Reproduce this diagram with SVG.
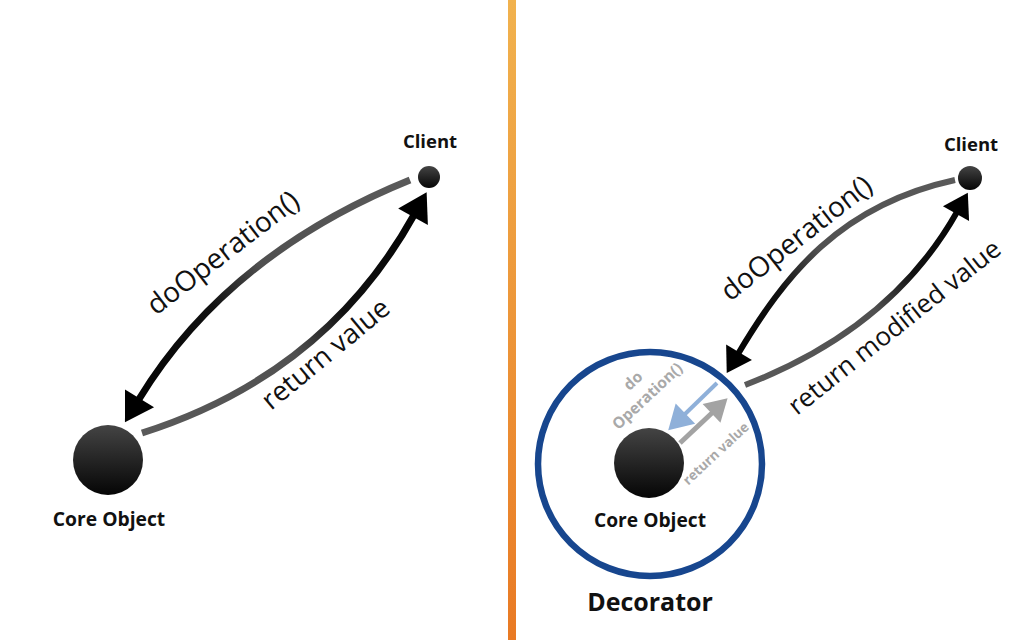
<svg xmlns="http://www.w3.org/2000/svg" width="1024" height="640" viewBox="0 0 1024 640">
  <style>
    .node-label { font-family: "Open Sans", "Liberation Sans", sans-serif; font-weight: 700; fill: #111; text-anchor: middle; }
    .edge-label { font-family: "Open Sans", "Liberation Sans", sans-serif; font-weight: 400; fill: #111; }
    .inner-label { font-family: "Open Sans", "Liberation Sans", sans-serif; font-weight: 700; fill: #a9a9a9; text-anchor: middle; }
    .arc { fill: none; stroke-linecap: butt; }
    .ball { fill: url(#ballGrad); }
  </style>
  <defs>
    <linearGradient id="divider" x1="0" y1="0" x2="0" y2="1">
      <stop offset="0" stop-color="#f1b24e"/>
      <stop offset="1" stop-color="#e97a24"/>
    </linearGradient>
    <linearGradient id="ballGrad" x1="0" y1="0" x2="0" y2="1">
      <stop offset="0" stop-color="#444"/>
      <stop offset="1" stop-color="#050505"/>
    </linearGradient>
    <linearGradient id="gL1" gradientUnits="userSpaceOnUse" x1="410" y1="180" x2="125" y2="422">
      <stop offset="0" stop-color="#5a5a5a"/>
      <stop offset="0.45" stop-color="#505050"/>
      <stop offset="0.62" stop-color="#111"/>
      <stop offset="1" stop-color="#000"/>
    </linearGradient>
    <linearGradient id="gL2" gradientUnits="userSpaceOnUse" x1="142" y1="433" x2="427" y2="192">
      <stop offset="0" stop-color="#5a5a5a"/>
      <stop offset="0.45" stop-color="#505050"/>
      <stop offset="0.62" stop-color="#111"/>
      <stop offset="1" stop-color="#000"/>
    </linearGradient>
    <linearGradient id="gR1" gradientUnits="userSpaceOnUse" x1="955" y1="180" x2="727" y2="373">
      <stop offset="0" stop-color="#5a5a5a"/>
      <stop offset="0.5" stop-color="#505050"/>
      <stop offset="0.68" stop-color="#111"/>
      <stop offset="1" stop-color="#000"/>
    </linearGradient>
    <linearGradient id="gR2" gradientUnits="userSpaceOnUse" x1="745" y1="385" x2="968" y2="193">
      <stop offset="0" stop-color="#5a5a5a"/>
      <stop offset="0.5" stop-color="#505050"/>
      <stop offset="0.68" stop-color="#111"/>
      <stop offset="1" stop-color="#000"/>
    </linearGradient>
    <marker id="ahL" markerUnits="userSpaceOnUse" orient="auto" overflow="visible" markerWidth="1" markerHeight="1" refX="0" refY="0">
      <path d="M-2,-17 L26,0 L-2,17 z" fill="#000"/>
    </marker>
    <marker id="ahR" markerUnits="userSpaceOnUse" orient="auto" overflow="visible" markerWidth="1" markerHeight="1" refX="0" refY="0">
      <path d="M-2,-15 L22,0 L-2,15 z" fill="#000"/>
    </marker>
    <marker id="ahBlue" markerUnits="userSpaceOnUse" orient="auto" overflow="visible" markerWidth="1" markerHeight="1" refX="0" refY="0">
      <path d="M-2,-14 L22,0 L-2,14 z" fill="#8fb0d9"/>
    </marker>
    <marker id="ahGray" markerUnits="userSpaceOnUse" orient="auto" overflow="visible" markerWidth="1" markerHeight="1" refX="0" refY="0">
      <path d="M-2,-13 L20,0 L-2,13 z" fill="#a3a3a3"/>
    </marker>
  </defs>

  <rect x="0" y="0" width="1024" height="640" fill="#ffffff"/>
  <rect id="divider-line" x="508" y="0" width="8" height="640" fill="url(#divider)"/>

  <g id="connectors">
    <path class="arc" d="M410,180 Q227.5,254 138.5,400" stroke="url(#gL1)" stroke-width="7" marker-end="url(#ahL)"/>
    <path class="arc" d="M142,433 Q325,375 414,215" stroke="url(#gL2)" stroke-width="7" marker-end="url(#ahL)"/>
    <path class="arc" d="M955,180 C840,205 785,275 738,354" stroke="url(#gR1)" stroke-width="6" marker-end="url(#ahR)"/>
    <path class="arc" d="M745,385 Q891,329 957,212" stroke="url(#gR2)" stroke-width="6" marker-end="url(#ahR)"/>
    <line x1="717" y1="383" x2="684" y2="415" stroke="#8fb0d9" stroke-width="4" marker-end="url(#ahBlue)"/>
    <line x1="680" y1="443" x2="713" y2="412" stroke="#a3a3a3" stroke-width="5" marker-end="url(#ahGray)"/>
  </g>

  <g id="edge-labels">
    <text class="edge-label" font-size="28" transform="translate(156,316) rotate(-37.5)">doOperation()</text>
    <text class="edge-label" font-size="27.5" transform="translate(271,411) rotate(-39.5)">return value</text>
    <text class="edge-label" font-size="28" transform="translate(730,302) rotate(-38)">doOperation()</text>
    <text class="edge-label" font-size="26" transform="translate(797,416) rotate(-38.5)">return modified value</text>
    <g transform="translate(651,400) rotate(-43)">
      <text class="inner-label" font-size="15.5" x="0" y="-21">do</text>
      <text class="inner-label" font-size="15.5" x="0" y="0">Operation()</text>
    </g>
    <text class="inner-label" font-size="13.5" transform="translate(719,457) rotate(-43)">return value</text>
  </g>

  <g id="node-client-left">
    <circle class="ball" cx="429" cy="177" r="11"/>
    <text class="node-label" x="430" y="148" font-size="18.5">Client</text>
  </g>
  <g id="node-core-left">
    <circle class="ball" cx="108" cy="460" r="35"/>
    <text class="node-label" x="109" y="526" font-size="19.3">Core Object</text>
  </g>
  <g id="node-client-right">
    <circle class="ball" cx="970" cy="178" r="12"/>
    <text class="node-label" x="971" y="151" font-size="18.5">Client</text>
  </g>
  <g id="node-decorator">
    <circle cx="650" cy="464" r="112" fill="none" stroke="#17468e" stroke-width="6.5"/>
    <text class="node-label" x="650" y="611" font-size="25">Decorator</text>
  </g>
  <g id="node-core-right">
    <circle class="ball" cx="649" cy="463" r="35"/>
    <text class="node-label" x="650" y="527" font-size="19.2">Core Object</text>
  </g>
</svg>
